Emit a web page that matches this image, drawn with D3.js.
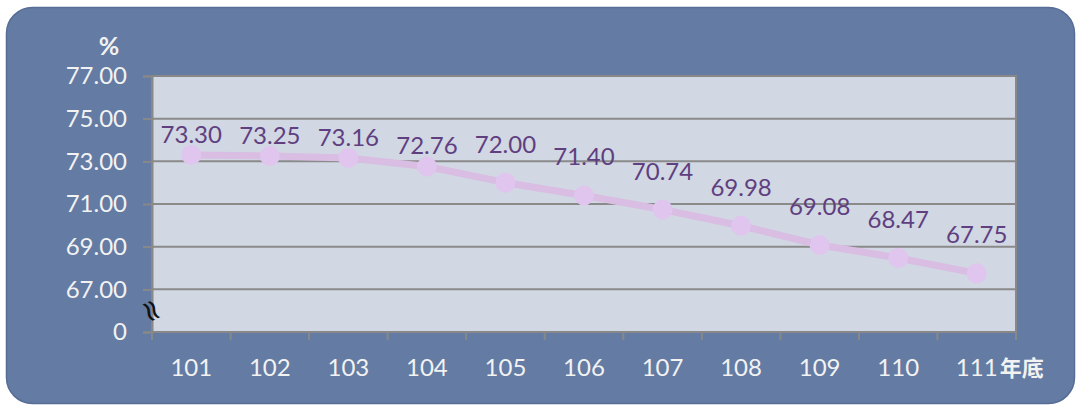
<!DOCTYPE html>
<html><head><meta charset="utf-8">
<script src="https://cdn.jsdelivr.net/npm/d3@7"></script>
<style>
html,body{margin:0;padding:0;background:#fff;}
svg{display:block;}
</style></head>
<body><svg id="c" width="1078" height="405"></svg>
<script>
const categories = ["101","102","103","104","105","106","107","108","109","110","111"];
const values = [73.30,73.25,73.16,72.76,72.00,71.40,70.74,69.98,69.08,68.47,67.75];
const valueLabels = ["73.30","73.25","73.16","72.76","72.00","71.40","70.74","69.98","69.08","68.47","67.75"];
const yTickValues = [65,67,69,71,73,75,77];
const yTickLabels = ["0","67.00","69.00","71.00","73.00","75.00","77.00"];
const yUnit = "%";
const xSuffix = "年底";

const FONT = "Lato, 'Noto Sans', sans-serif";
const svg = d3.select("#c");

// outer panel
svg.append("rect").attr("x",6.5).attr("y",7.5).attr("width",1068).attr("height",396)
  .attr("rx",26).attr("ry",26).attr("fill","#647ba3").attr("stroke","#566d96").attr("stroke-width",1.5);

const L=152,R=1016,T=76,B=332;
const x = d3.scaleBand().domain(categories).range([L,R]).padding(0);
const y = d3.scaleLinear().domain([65,77]).range([B,T]);

// plot area
svg.append("rect").attr("x",L).attr("y",T).attr("width",R-L).attr("height",B-T)
  .attr("fill","#d1d7e3").attr("stroke","#888").attr("stroke-width",2);

// gridlines
svg.append("g").selectAll("line").data(yTickValues.slice(1,-1)).join("line")
  .attr("x1",L).attr("x2",R).attr("y1",d=>y(d)).attr("y2",d=>y(d))
  .attr("stroke","#8a8a8a").attr("stroke-width",2);

// y axis
const yAxis = d3.axisLeft(y).tickValues(yTickValues).tickSize(9).tickPadding(16)
  .tickFormat((d,i)=>yTickLabels[i]);
const gy = svg.append("g").attr("transform",`translate(${L},0)`).call(yAxis);
gy.select(".domain").attr("stroke","#888").attr("stroke-width",2);
gy.selectAll(".tick line").attr("stroke","#888").attr("stroke-width",2);
gy.selectAll(".tick text").attr("fill","#f2f2f2").attr("font-size",24).attr("font-family",FONT);

// x axis
const gx = svg.append("g").attr("transform",`translate(0,${B})`);
gx.append("line").attr("x1",L).attr("x2",R).attr("stroke","#888").attr("stroke-width",2);
const edges = categories.map(c=>x(c)).concat([R]);
gx.selectAll("line.tk").data(edges).join("line").attr("class","tk")
  .attr("x1",d=>d).attr("x2",d=>d).attr("y1",0).attr("y2",8)
  .attr("stroke","#888").attr("stroke-width",2);
gx.selectAll("text.xl").data(categories).join("text").attr("class","xl")
  .attr("x",d=>x(d)+x.bandwidth()/2).attr("y",44).attr("text-anchor","middle")
  .attr("fill","#f2f2f2").attr("font-size",24).attr("font-family",FONT).text(d=>d);
const last = categories[categories.length-1];
gx.append("text").attr("x",x(last)+x.bandwidth()/2+23).attr("y",44)
  .attr("fill","#f2f2f2").attr("font-size",22).attr("font-weight","bold")
  .attr("font-family","'Noto Sans CJK TC', sans-serif").text(xSuffix);

// unit
svg.append("text").attr("x",109).attr("y",55).attr("text-anchor","middle")
  .attr("fill","#f2f2f2").attr("font-size",25).attr("font-weight","bold").attr("font-family",FONT).text(yUnit);

// break symbol
svg.append("text").attr("transform",`translate(${L-1},${311}) rotate(65)`)
  .attr("text-anchor","middle").attr("dy","0.3em")
  .attr("fill","#111").attr("font-size",30).attr("font-family","DejaVu Sans").text("≈");

// line
const pts = categories.map((c,i)=>({c,v:values[i],lab:valueLabels[i],i}));
svg.append("path").datum(pts)
  .attr("d",d3.line().x(d=>x(d.c)+x.bandwidth()/2).y(d=>y(d.v)))
  .attr("fill","none").attr("stroke","#d9bde3").attr("stroke-width",7);
svg.append("g").selectAll("circle").data(pts).join("circle")
  .attr("cx",d=>x(d.c)+x.bandwidth()/2).attr("cy",d=>y(d.v)).attr("r",10)
  .attr("fill","#e0c5ee");

svg.append("g").selectAll("text").data(pts).join("text")
  .attr("x",d=>x(d.c)+x.bandwidth()/2)
  .attr("y",d=>y(d.v)-(d.i<4?12:30))
  .attr("text-anchor","middle").attr("fill","#5f3f7f").attr("font-size",24)
  .attr("font-family",FONT).text(d=>d.lab);
</script></body></html>
